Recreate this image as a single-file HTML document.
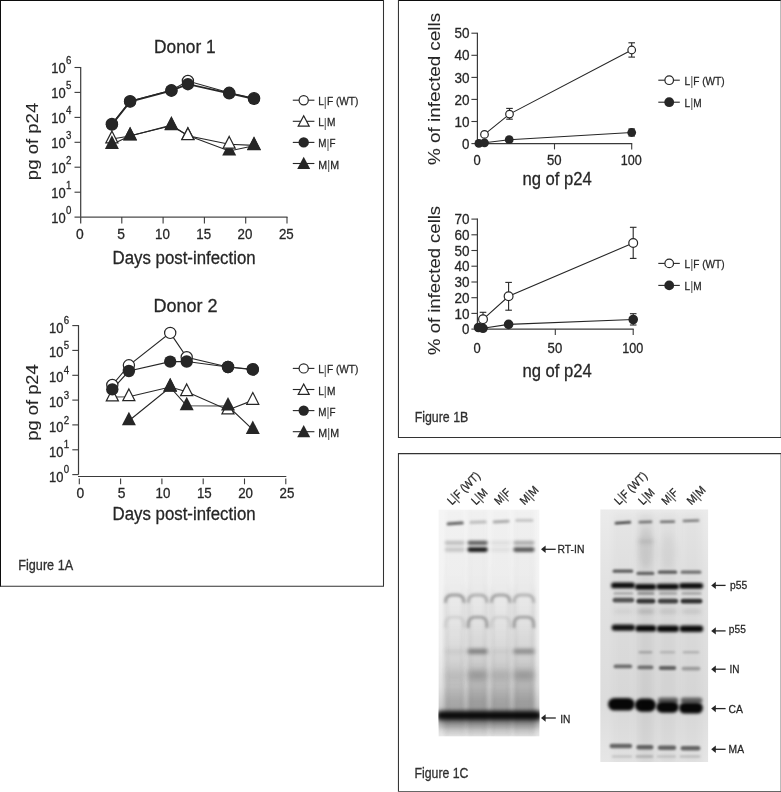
<!DOCTYPE html>
<html lang="en"><head><meta charset="utf-8"><title>Figure 1</title>
<style>html,body{margin:0;padding:0;background:#fff}svg{display:block}text{stroke:#262626;stroke-width:.28px}.v{stroke-width:.08px}.p{fill:#606060;stroke:#606060;stroke-width:.12px}.q{fill:#555;stroke:#555;stroke-width:.15px}</style></head>
<body>
<svg width="781" height="792" viewBox="0 0 781 792" font-family="'Liberation Sans', sans-serif" fill="#262626">
<defs>
<filter id="b07" filterUnits="userSpaceOnUse" x="425" y="495" width="300" height="280"><feGaussianBlur stdDeviation="0.75"/></filter>
<filter id="b1" filterUnits="userSpaceOnUse" x="425" y="495" width="300" height="280"><feGaussianBlur stdDeviation="1.0"/></filter>
<filter id="b15" filterUnits="userSpaceOnUse" x="425" y="495" width="300" height="280"><feGaussianBlur stdDeviation="1.5"/></filter>
<filter id="b2" filterUnits="userSpaceOnUse" x="425" y="495" width="300" height="280"><feGaussianBlur stdDeviation="1.9"/></filter>
<filter id="b3" filterUnits="userSpaceOnUse" x="425" y="495" width="300" height="280"><feGaussianBlur stdDeviation="3.2"/></filter>
<linearGradient id="gl" x1="0" y1="0" x2="0" y2="1"><stop offset="0" stop-color="#f5f5f5"/><stop offset="0.35" stop-color="#f3f3f3"/><stop offset="0.6" stop-color="#eeeeee"/><stop offset="0.78" stop-color="#e1e1e1"/><stop offset="0.87" stop-color="#cacaca"/><stop offset="0.96" stop-color="#d6d6d6"/><stop offset="1" stop-color="#e8e8e8"/></linearGradient>
<linearGradient id="gls" x1="0" y1="0" x2="0" y2="1"><stop offset="0" stop-color="#000" stop-opacity="0.02"/><stop offset="0.31" stop-color="#000" stop-opacity="0.03"/><stop offset="0.49" stop-color="#000" stop-opacity="0.06"/><stop offset="0.66" stop-color="#000" stop-opacity="0.12"/><stop offset="0.85" stop-color="#000" stop-opacity="0.25"/><stop offset="1" stop-color="#000" stop-opacity="0.06"/></linearGradient>
<linearGradient id="gle" x1="0" y1="0" x2="0" y2="1"><stop offset="0" stop-color="#000" stop-opacity="0.01"/><stop offset="0.33" stop-color="#000" stop-opacity="0.03"/><stop offset="0.42" stop-color="#000" stop-opacity="0.12"/><stop offset="0.56" stop-color="#000" stop-opacity="0.12"/><stop offset="0.7" stop-color="#000" stop-opacity="0.12"/><stop offset="0.85" stop-color="#000" stop-opacity="0.14"/><stop offset="1" stop-color="#000" stop-opacity="0.06"/></linearGradient>
<linearGradient id="fadeL" x1="0" y1="0" x2="1" y2="0"><stop offset="0" stop-color="#fff" stop-opacity="0.75"/><stop offset="1" stop-color="#fff" stop-opacity="0"/></linearGradient>
<linearGradient id="fadeR" x1="0" y1="0" x2="1" y2="0"><stop offset="0" stop-color="#fff" stop-opacity="0"/><stop offset="1" stop-color="#fff" stop-opacity="0.6"/></linearGradient>
<linearGradient id="gr" x1="0" y1="0" x2="0" y2="1"><stop offset="0" stop-color="#ebebeb"/><stop offset="0.3" stop-color="#e2e2e2"/><stop offset="0.75" stop-color="#dcdcdc"/><stop offset="1" stop-color="#e6e6e6"/></linearGradient>
</defs>
<rect width="781" height="792" fill="#fff"/>
<path d="M0,0.5 H384 M398,0.5 H781 M0.5,0 V586.6" fill="none" stroke="#0c0c0c" stroke-width="1"/>
<g fill="none" stroke="#333" stroke-width="1.05">
<path d="M383.5,0 V586.3 H0"/>
<path d="M781,437.4 H398.45 V0"/>
<path d="M781,453.6 H398.45 V792"/>
</g>
<path d="M781,0 V437 M781,454 V792" fill="none" stroke="#777" stroke-width="1"/>
<path d="M398,791.5 H781" fill="none" stroke="#666" stroke-width="1"/>
<line x1="80.7" y1="67.0" x2="80.7" y2="223.4" stroke="#3a3a3a" stroke-width="1.2"/>
<line x1="74.5" y1="192.2" x2="80.7" y2="192.2" stroke="#3a3a3a" stroke-width="1.1"/>
<line x1="74.5" y1="167.2" x2="80.7" y2="167.2" stroke="#3a3a3a" stroke-width="1.1"/>
<line x1="74.5" y1="142.3" x2="80.7" y2="142.3" stroke="#3a3a3a" stroke-width="1.1"/>
<line x1="74.5" y1="117.4" x2="80.7" y2="117.4" stroke="#3a3a3a" stroke-width="1.1"/>
<line x1="74.5" y1="92.4" x2="80.7" y2="92.4" stroke="#3a3a3a" stroke-width="1.1"/>
<line x1="74.5" y1="67.5" x2="80.7" y2="67.5" stroke="#3a3a3a" stroke-width="1.1"/>
<line x1="74.5" y1="217.1" x2="287.5" y2="217.1" stroke="#4a4a4a" stroke-width="1.3"/>
<text x="76.0" y="239.2" font-size="14.2" textLength="7.7" lengthAdjust="spacingAndGlyphs">0</text>
<line x1="121.8" y1="217.1" x2="121.8" y2="223.4" stroke="#3a3a3a" stroke-width="1.1"/>
<text x="117.2" y="239.2" font-size="14.2" textLength="7.7" lengthAdjust="spacingAndGlyphs">5</text>
<line x1="163.1" y1="217.1" x2="163.1" y2="223.4" stroke="#3a3a3a" stroke-width="1.1"/>
<text x="155.0" y="239.2" font-size="14.2" textLength="14.8" lengthAdjust="spacingAndGlyphs">10</text>
<line x1="204.4" y1="217.1" x2="204.4" y2="223.4" stroke="#3a3a3a" stroke-width="1.1"/>
<text x="196.3" y="239.2" font-size="14.2" textLength="14.8" lengthAdjust="spacingAndGlyphs">15</text>
<line x1="245.7" y1="217.1" x2="245.7" y2="223.4" stroke="#3a3a3a" stroke-width="1.1"/>
<text x="237.6" y="239.2" font-size="14.2" textLength="14.8" lengthAdjust="spacingAndGlyphs">20</text>
<line x1="287.0" y1="217.1" x2="287.0" y2="223.4" stroke="#3a3a3a" stroke-width="1.1"/>
<text x="278.9" y="239.2" font-size="14.2" textLength="14.8" lengthAdjust="spacingAndGlyphs">25</text>
<text x="51.3" y="222.6" font-size="14.2" textLength="14.4" lengthAdjust="spacingAndGlyphs">10</text>
<text x="66.0" y="213.9" font-size="10.8" textLength="5.4" lengthAdjust="spacingAndGlyphs">0</text>
<text x="51.3" y="197.7" font-size="14.2" textLength="14.4" lengthAdjust="spacingAndGlyphs">10</text>
<text x="66.0" y="189.0" font-size="10.8" textLength="5.4" lengthAdjust="spacingAndGlyphs">1</text>
<text x="51.3" y="172.7" font-size="14.2" textLength="14.4" lengthAdjust="spacingAndGlyphs">10</text>
<text x="66.0" y="164.0" font-size="10.8" textLength="5.4" lengthAdjust="spacingAndGlyphs">2</text>
<text x="51.3" y="147.8" font-size="14.2" textLength="14.4" lengthAdjust="spacingAndGlyphs">10</text>
<text x="66.0" y="139.1" font-size="10.8" textLength="5.4" lengthAdjust="spacingAndGlyphs">3</text>
<text x="51.3" y="122.9" font-size="14.2" textLength="14.4" lengthAdjust="spacingAndGlyphs">10</text>
<text x="66.0" y="114.2" font-size="10.8" textLength="5.4" lengthAdjust="spacingAndGlyphs">4</text>
<text x="51.3" y="97.9" font-size="14.2" textLength="14.4" lengthAdjust="spacingAndGlyphs">10</text>
<text x="66.0" y="89.2" font-size="10.8" textLength="5.4" lengthAdjust="spacingAndGlyphs">5</text>
<text x="51.3" y="73.0" font-size="14.2" textLength="14.4" lengthAdjust="spacingAndGlyphs">10</text>
<text x="66.0" y="64.3" font-size="10.8" textLength="5.4" lengthAdjust="spacingAndGlyphs">6</text>
<text x="38.1" y="180.2" font-size="16.6" textLength="77.5" lengthAdjust="spacingAndGlyphs" transform="rotate(-90 38.1 180.2)" class="v">pg of p24</text>
<text x="112.6" y="263.7" font-size="17.6" textLength="143.0" lengthAdjust="spacingAndGlyphs">Days post-infection</text>
<text x="154.0" y="53.0" font-size="18.6" textLength="61.6" lengthAdjust="spacingAndGlyphs">Donor 1</text>
<polyline points="111.9,124.0 130.1,101.2 171.4,90.3 187.9,81.0 229.2,92.8 254.0,98.2" fill="none" stroke="#262626" stroke-width="1.15"/>
<polyline points="111.9,139.0 130.1,136.0 171.4,125.2 187.9,135.8 229.2,144.3 254.0,145.4" fill="none" stroke="#262626" stroke-width="1.15"/>
<polyline points="111.9,124.6 130.1,101.6 171.4,90.7 187.9,84.2 229.2,93.3 254.0,98.9" fill="none" stroke="#262626" stroke-width="1.8"/>
<polyline points="111.9,144.4 130.1,135.8 171.4,125.8 187.9,135.6 229.2,151.0 254.0,145.8" fill="none" stroke="#262626" stroke-width="1.15"/>
<polygon points="111.9,131.1 117.9,142.9 105.8,142.9" fill="#fff" stroke="#262626" stroke-width="1.2" stroke-linejoin="miter"/>
<polygon points="130.1,128.1 136.1,139.9 124.0,139.9" fill="#fff" stroke="#262626" stroke-width="1.2" stroke-linejoin="miter"/>
<polygon points="171.4,117.3 177.4,129.1 165.3,129.1" fill="#fff" stroke="#262626" stroke-width="1.2" stroke-linejoin="miter"/>
<polygon points="254.0,137.5 260.0,149.3 247.9,149.3" fill="#fff" stroke="#262626" stroke-width="1.2" stroke-linejoin="miter"/>
<polygon points="111.9,135.3 118.9,148.9 104.9,148.9" fill="#262626"/>
<polygon points="130.1,126.7 137.1,140.3 123.1,140.3" fill="#262626"/>
<polygon points="171.4,116.7 178.4,130.3 164.4,130.3" fill="#262626"/>
<polygon points="187.9,126.5 194.9,140.1 180.9,140.1" fill="#262626"/>
<polygon points="229.2,141.9 236.2,155.5 222.2,155.5" fill="#262626"/>
<polygon points="254.0,136.7 261.0,150.3 247.0,150.3" fill="#262626"/>
<polygon points="187.9,127.9 193.9,139.7 181.8,139.7" fill="#fff" stroke="#262626" stroke-width="1.2" stroke-linejoin="miter"/>
<polygon points="229.2,136.4 235.2,148.2 223.1,148.2" fill="#fff" stroke="#262626" stroke-width="1.2" stroke-linejoin="miter"/>
<circle cx="111.9" cy="124.0" r="5.60" fill="#fff" stroke="#262626" stroke-width="1.2"/>
<circle cx="130.1" cy="101.2" r="5.60" fill="#fff" stroke="#262626" stroke-width="1.2"/>
<circle cx="171.4" cy="90.3" r="5.60" fill="#fff" stroke="#262626" stroke-width="1.2"/>
<circle cx="187.9" cy="81.0" r="5.60" fill="#fff" stroke="#262626" stroke-width="1.2"/>
<circle cx="229.2" cy="92.8" r="5.60" fill="#fff" stroke="#262626" stroke-width="1.2"/>
<circle cx="254.0" cy="98.2" r="5.60" fill="#fff" stroke="#262626" stroke-width="1.2"/>
<circle cx="111.9" cy="124.6" r="6.2" fill="#262626"/>
<circle cx="130.1" cy="101.6" r="6.2" fill="#262626"/>
<circle cx="171.4" cy="90.7" r="6.2" fill="#262626"/>
<circle cx="187.9" cy="84.2" r="6.2" fill="#262626"/>
<circle cx="229.2" cy="93.3" r="6.2" fill="#262626"/>
<circle cx="254.0" cy="98.9" r="6.2" fill="#262626"/>
<line x1="292.8" y1="100.2" x2="314.4" y2="100.2" stroke="#262626" stroke-width="1.1"/>
<circle cx="303.7" cy="100.2" r="4.60" fill="#fff" stroke="#262626" stroke-width="1.2"/>
<text x="318.2" y="105.2" font-size="11.6" textLength="40.2" lengthAdjust="spacingAndGlyphs">L<tspan class="p" font-size="13.6" dy="0.5">|</tspan><tspan dy="-0.5">F (WT)</tspan></text>
<line x1="292.8" y1="121.3" x2="314.4" y2="121.3" stroke="#262626" stroke-width="1.1"/>
<polygon points="303.7,115.8 309.2,126.2 298.2,126.2" fill="#fff" stroke="#262626" stroke-width="1.2" stroke-linejoin="miter"/>
<text x="318.2" y="126.3" font-size="11.6" textLength="17.2" lengthAdjust="spacingAndGlyphs">L<tspan class="p" font-size="13.6" dy="0.5">|</tspan><tspan dy="-0.5">M</tspan></text>
<line x1="292.8" y1="142.4" x2="314.4" y2="142.4" stroke="#262626" stroke-width="1.1"/>
<circle cx="303.7" cy="142.4" r="5.2" fill="#262626"/>
<text x="318.2" y="147.4" font-size="11.6" textLength="17.2" lengthAdjust="spacingAndGlyphs">M<tspan class="p" font-size="13.6" dy="0.5">|</tspan><tspan dy="-0.5">F</tspan></text>
<line x1="292.8" y1="163.5" x2="314.4" y2="163.5" stroke="#262626" stroke-width="1.1"/>
<polygon points="303.7,156.8 310.2,169.0 297.2,169.0" fill="#262626"/>
<text x="318.2" y="168.5" font-size="11.6" textLength="21.0" lengthAdjust="spacingAndGlyphs">M<tspan class="p" font-size="13.6" dy="0.5">|</tspan><tspan dy="-0.5">M</tspan></text>
<line x1="78.5" y1="325.1" x2="78.5" y2="474.6" stroke="#3a3a3a" stroke-width="1.2"/>
<line x1="72.3" y1="474.6" x2="78.5" y2="474.6" stroke="#3a3a3a" stroke-width="1.1"/>
<line x1="72.3" y1="449.8" x2="78.5" y2="449.8" stroke="#3a3a3a" stroke-width="1.1"/>
<line x1="72.3" y1="424.9" x2="78.5" y2="424.9" stroke="#3a3a3a" stroke-width="1.1"/>
<line x1="72.3" y1="400.1" x2="78.5" y2="400.1" stroke="#3a3a3a" stroke-width="1.1"/>
<line x1="72.3" y1="375.3" x2="78.5" y2="375.3" stroke="#3a3a3a" stroke-width="1.1"/>
<line x1="72.3" y1="350.4" x2="78.5" y2="350.4" stroke="#3a3a3a" stroke-width="1.1"/>
<line x1="72.3" y1="325.6" x2="78.5" y2="325.6" stroke="#3a3a3a" stroke-width="1.1"/>
<line x1="78.0" y1="476.5" x2="286.3" y2="476.5" stroke="#3a3a3a" stroke-width="1.2"/>
<line x1="79.3" y1="478.5" x2="79.3" y2="484.3" stroke="#3a3a3a" stroke-width="1.1"/>
<text x="76.5" y="498.4" font-size="14.2" textLength="7.7" lengthAdjust="spacingAndGlyphs">0</text>
<line x1="120.6" y1="478.5" x2="120.6" y2="484.3" stroke="#3a3a3a" stroke-width="1.1"/>
<text x="117.8" y="498.4" font-size="14.2" textLength="7.7" lengthAdjust="spacingAndGlyphs">5</text>
<line x1="161.9" y1="478.5" x2="161.9" y2="484.3" stroke="#3a3a3a" stroke-width="1.1"/>
<text x="155.6" y="498.4" font-size="14.2" textLength="14.8" lengthAdjust="spacingAndGlyphs">10</text>
<line x1="203.2" y1="478.5" x2="203.2" y2="484.3" stroke="#3a3a3a" stroke-width="1.1"/>
<text x="196.9" y="498.4" font-size="14.2" textLength="14.8" lengthAdjust="spacingAndGlyphs">15</text>
<line x1="244.5" y1="478.5" x2="244.5" y2="484.3" stroke="#3a3a3a" stroke-width="1.1"/>
<text x="238.2" y="498.4" font-size="14.2" textLength="14.8" lengthAdjust="spacingAndGlyphs">20</text>
<line x1="285.8" y1="478.5" x2="285.8" y2="484.3" stroke="#3a3a3a" stroke-width="1.1"/>
<text x="279.5" y="498.4" font-size="14.2" textLength="14.8" lengthAdjust="spacingAndGlyphs">25</text>
<text x="49.1" y="481.6" font-size="14.2" textLength="14.4" lengthAdjust="spacingAndGlyphs">10</text>
<text x="63.8" y="473.2" font-size="10.8" textLength="5.4" lengthAdjust="spacingAndGlyphs">0</text>
<text x="49.1" y="456.8" font-size="14.2" textLength="14.4" lengthAdjust="spacingAndGlyphs">10</text>
<text x="63.8" y="448.4" font-size="10.8" textLength="5.4" lengthAdjust="spacingAndGlyphs">1</text>
<text x="49.1" y="431.9" font-size="14.2" textLength="14.4" lengthAdjust="spacingAndGlyphs">10</text>
<text x="63.8" y="423.5" font-size="10.8" textLength="5.4" lengthAdjust="spacingAndGlyphs">2</text>
<text x="49.1" y="407.1" font-size="14.2" textLength="14.4" lengthAdjust="spacingAndGlyphs">10</text>
<text x="63.8" y="398.7" font-size="10.8" textLength="5.4" lengthAdjust="spacingAndGlyphs">3</text>
<text x="49.1" y="382.3" font-size="14.2" textLength="14.4" lengthAdjust="spacingAndGlyphs">10</text>
<text x="63.8" y="373.9" font-size="10.8" textLength="5.4" lengthAdjust="spacingAndGlyphs">4</text>
<text x="49.1" y="357.4" font-size="14.2" textLength="14.4" lengthAdjust="spacingAndGlyphs">10</text>
<text x="63.8" y="349.0" font-size="10.8" textLength="5.4" lengthAdjust="spacingAndGlyphs">5</text>
<text x="49.1" y="332.6" font-size="14.2" textLength="14.4" lengthAdjust="spacingAndGlyphs">10</text>
<text x="63.8" y="324.2" font-size="10.8" textLength="5.4" lengthAdjust="spacingAndGlyphs">6</text>
<text x="38.1" y="440.7" font-size="16.6" textLength="76.4" lengthAdjust="spacingAndGlyphs" transform="rotate(-90 38.1 440.7)" class="v">pg of p24</text>
<text x="112.6" y="520.2" font-size="17.6" textLength="143.0" lengthAdjust="spacingAndGlyphs">Days post-infection</text>
<text x="153.4" y="311.7" font-size="19.0" textLength="64.2" lengthAdjust="spacingAndGlyphs">Donor 2</text>
<polyline points="112.3,385.0 128.9,365.3 170.2,332.9 186.7,357.2 228.0,367.0 252.8,369.2" fill="none" stroke="#262626" stroke-width="1.15"/>
<polyline points="112.3,397.0 128.9,396.8 170.2,387.0 186.7,391.8 228.0,410.0 252.8,400.4" fill="none" stroke="#262626" stroke-width="1.15"/>
<polyline points="112.3,389.4 128.9,371.0 170.2,361.6 186.7,361.5 228.0,367.0 252.8,369.6" fill="none" stroke="#262626" stroke-width="1.15"/>
<polyline points="128.9,420.8 170.2,387.2 186.7,405.8 228.0,406.0 252.8,429.6" fill="none" stroke="#262626" stroke-width="1.15"/>
<polygon points="112.3,389.1 118.4,400.9 106.3,400.9" fill="#fff" stroke="#262626" stroke-width="1.2" stroke-linejoin="miter"/>
<polygon points="128.9,388.9 134.9,400.7 122.8,400.7" fill="#fff" stroke="#262626" stroke-width="1.2" stroke-linejoin="miter"/>
<polygon points="170.2,379.1 176.2,390.9 164.1,390.9" fill="#fff" stroke="#262626" stroke-width="1.2" stroke-linejoin="miter"/>
<polygon points="186.7,383.9 192.7,395.7 180.6,395.7" fill="#fff" stroke="#262626" stroke-width="1.2" stroke-linejoin="miter"/>
<polygon points="228.0,402.1 234.0,413.9 221.9,413.9" fill="#fff" stroke="#262626" stroke-width="1.2" stroke-linejoin="miter"/>
<polygon points="252.8,392.5 258.8,404.3 246.7,404.3" fill="#fff" stroke="#262626" stroke-width="1.2" stroke-linejoin="miter"/>
<polygon points="128.9,411.7 135.9,425.3 121.9,425.3" fill="#262626"/>
<polygon points="170.2,378.1 177.2,391.7 163.2,391.7" fill="#262626"/>
<polygon points="186.7,396.7 193.7,410.3 179.7,410.3" fill="#262626"/>
<polygon points="228.0,396.9 235.0,410.5 221.0,410.5" fill="#262626"/>
<polygon points="252.8,420.5 259.8,434.1 245.8,434.1" fill="#262626"/>
<circle cx="112.3" cy="385.0" r="5.60" fill="#fff" stroke="#262626" stroke-width="1.2"/>
<circle cx="128.9" cy="365.3" r="5.60" fill="#fff" stroke="#262626" stroke-width="1.2"/>
<circle cx="170.2" cy="332.9" r="5.60" fill="#fff" stroke="#262626" stroke-width="1.2"/>
<circle cx="186.7" cy="357.2" r="5.60" fill="#fff" stroke="#262626" stroke-width="1.2"/>
<circle cx="228.0" cy="367.0" r="5.60" fill="#fff" stroke="#262626" stroke-width="1.2"/>
<circle cx="252.8" cy="369.2" r="5.60" fill="#fff" stroke="#262626" stroke-width="1.2"/>
<circle cx="112.3" cy="389.4" r="6.2" fill="#262626"/>
<circle cx="128.9" cy="371.0" r="6.2" fill="#262626"/>
<circle cx="170.2" cy="361.6" r="6.2" fill="#262626"/>
<circle cx="186.7" cy="361.5" r="6.2" fill="#262626"/>
<circle cx="228.0" cy="367.0" r="6.2" fill="#262626"/>
<circle cx="252.8" cy="369.6" r="6.2" fill="#262626"/>
<line x1="292.8" y1="368.4" x2="314.4" y2="368.4" stroke="#262626" stroke-width="1.1"/>
<circle cx="303.7" cy="368.4" r="4.60" fill="#fff" stroke="#262626" stroke-width="1.2"/>
<text x="318.2" y="373.4" font-size="11.6" textLength="40.2" lengthAdjust="spacingAndGlyphs">L<tspan class="p" font-size="13.6" dy="0.5">|</tspan><tspan dy="-0.5">F (WT)</tspan></text>
<line x1="292.8" y1="389.5" x2="314.4" y2="389.5" stroke="#262626" stroke-width="1.1"/>
<polygon points="303.7,384.0 309.2,394.4 298.2,394.4" fill="#fff" stroke="#262626" stroke-width="1.2" stroke-linejoin="miter"/>
<text x="318.2" y="394.5" font-size="11.6" textLength="17.2" lengthAdjust="spacingAndGlyphs">L<tspan class="p" font-size="13.6" dy="0.5">|</tspan><tspan dy="-0.5">M</tspan></text>
<line x1="292.8" y1="410.6" x2="314.4" y2="410.6" stroke="#262626" stroke-width="1.1"/>
<circle cx="303.7" cy="410.6" r="5.2" fill="#262626"/>
<text x="318.2" y="415.6" font-size="11.6" textLength="17.2" lengthAdjust="spacingAndGlyphs">M<tspan class="p" font-size="13.6" dy="0.5">|</tspan><tspan dy="-0.5">F</tspan></text>
<line x1="292.8" y1="431.7" x2="314.4" y2="431.7" stroke="#262626" stroke-width="1.1"/>
<polygon points="303.7,425.0 310.2,437.2 297.2,437.2" fill="#262626"/>
<text x="318.2" y="436.7" font-size="11.6" textLength="21.0" lengthAdjust="spacingAndGlyphs">M<tspan class="p" font-size="13.6" dy="0.5">|</tspan><tspan dy="-0.5">M</tspan></text>
<text x="18.3" y="570.4" font-size="14.1" textLength="54.8" lengthAdjust="spacingAndGlyphs" fill="#333">Figure 1A</text>
<line x1="477.4" y1="32.7" x2="477.4" y2="144.1" stroke="#3a3a3a" stroke-width="1.2"/>
<line x1="471.4" y1="143.6" x2="477.4" y2="143.6" stroke="#3a3a3a" stroke-width="1.1"/>
<text x="462.0" y="148.7" font-size="14.2" textLength="7.4" lengthAdjust="spacingAndGlyphs">0</text>
<line x1="471.4" y1="121.5" x2="477.4" y2="121.5" stroke="#3a3a3a" stroke-width="1.1"/>
<text x="454.4" y="126.6" font-size="14.2" textLength="15.0" lengthAdjust="spacingAndGlyphs">10</text>
<line x1="471.4" y1="99.4" x2="477.4" y2="99.4" stroke="#3a3a3a" stroke-width="1.1"/>
<text x="454.4" y="104.5" font-size="14.2" textLength="15.0" lengthAdjust="spacingAndGlyphs">20</text>
<line x1="471.4" y1="77.4" x2="477.4" y2="77.4" stroke="#3a3a3a" stroke-width="1.1"/>
<text x="454.4" y="82.5" font-size="14.2" textLength="15.0" lengthAdjust="spacingAndGlyphs">30</text>
<line x1="471.4" y1="55.3" x2="477.4" y2="55.3" stroke="#3a3a3a" stroke-width="1.1"/>
<text x="454.4" y="60.4" font-size="14.2" textLength="15.0" lengthAdjust="spacingAndGlyphs">40</text>
<line x1="471.4" y1="33.2" x2="477.4" y2="33.2" stroke="#3a3a3a" stroke-width="1.1"/>
<text x="454.4" y="38.3" font-size="14.2" textLength="15.0" lengthAdjust="spacingAndGlyphs">50</text>
<line x1="476.9" y1="143.6" x2="632.2" y2="143.6" stroke="#3a3a3a" stroke-width="1.2"/>
<text x="473.4" y="165.0" font-size="14.2" textLength="7.2" lengthAdjust="spacingAndGlyphs">0</text>
<line x1="554.5" y1="143.6" x2="554.5" y2="149.4" stroke="#3a3a3a" stroke-width="1.1"/>
<text x="546.9" y="165.0" font-size="14.2" textLength="14.6" lengthAdjust="spacingAndGlyphs">50</text>
<line x1="631.7" y1="143.6" x2="631.7" y2="149.4" stroke="#3a3a3a" stroke-width="1.1"/>
<text x="620.8" y="165.0" font-size="14.2" textLength="21.0" lengthAdjust="spacingAndGlyphs">100</text>
<text x="440.5" y="164.9" font-size="16.8" textLength="152.0" lengthAdjust="spacingAndGlyphs" transform="rotate(-90 440.5 164.9)" class="v">% of infected cells</text>
<text x="522.4" y="185.0" font-size="17.6" textLength="69.4" lengthAdjust="spacingAndGlyphs">ng of p24</text>
<polyline points="484.5,134.4 509.5,114.1 631.7,50.0" fill="none" stroke="#262626" stroke-width="1.1"/>
<polyline points="478.9,143.4 484.5,142.8 509.2,139.7 631.7,132.5" fill="none" stroke="#262626" stroke-width="1.1"/>
<circle cx="484.5" cy="134.4" r="3.80" fill="#fff" stroke="#262626" stroke-width="1.2"/>
<line x1="509.5" y1="108.4" x2="509.5" y2="119.2" stroke="#262626" stroke-width="1.1"/>
<line x1="506.2" y1="108.4" x2="512.8" y2="108.4" stroke="#262626" stroke-width="1.1"/>
<line x1="506.2" y1="119.2" x2="512.8" y2="119.2" stroke="#262626" stroke-width="1.1"/>
<circle cx="509.5" cy="114.1" r="3.80" fill="#fff" stroke="#262626" stroke-width="1.2"/>
<line x1="631.7" y1="42.8" x2="631.7" y2="57.1" stroke="#262626" stroke-width="1.1"/>
<line x1="628.4" y1="42.8" x2="635.0" y2="42.8" stroke="#262626" stroke-width="1.1"/>
<line x1="628.4" y1="57.1" x2="635.0" y2="57.1" stroke="#262626" stroke-width="1.1"/>
<circle cx="631.7" cy="50.0" r="3.80" fill="#fff" stroke="#262626" stroke-width="1.2"/>
<circle cx="478.9" cy="143.4" r="4.4" fill="#262626"/>
<circle cx="484.5" cy="142.8" r="4.4" fill="#262626"/>
<circle cx="509.2" cy="139.7" r="4.4" fill="#262626"/>
<line x1="631.7" y1="129.0" x2="631.7" y2="136.0" stroke="#262626" stroke-width="1.1"/>
<line x1="628.4" y1="129.0" x2="635.0" y2="129.0" stroke="#262626" stroke-width="1.1"/>
<line x1="628.4" y1="136.0" x2="635.0" y2="136.0" stroke="#262626" stroke-width="1.1"/>
<circle cx="631.7" cy="132.5" r="4.4" fill="#262626"/>
<line x1="658.3" y1="80.2" x2="679.8" y2="80.2" stroke="#262626" stroke-width="1.1"/>
<circle cx="669.2" cy="80.2" r="4.30" fill="#fff" stroke="#262626" stroke-width="1.2"/>
<text x="684.6" y="84.7" font-size="11.6" textLength="40.0" lengthAdjust="spacingAndGlyphs">L<tspan class="p" font-size="13.6" dy="0.5">|</tspan><tspan dy="-0.5">F (WT)</tspan></text>
<line x1="658.3" y1="102.2" x2="679.8" y2="102.2" stroke="#262626" stroke-width="1.1"/>
<circle cx="669.2" cy="102.2" r="4.9" fill="#262626"/>
<text x="684.6" y="106.7" font-size="11.6" textLength="17.0" lengthAdjust="spacingAndGlyphs">L<tspan class="p" font-size="13.6" dy="0.5">|</tspan><tspan dy="-0.5">M</tspan></text>
<line x1="477.4" y1="218.6" x2="477.4" y2="329.6" stroke="#3a3a3a" stroke-width="1.2"/>
<line x1="471.4" y1="329.1" x2="477.4" y2="329.1" stroke="#3a3a3a" stroke-width="1.1"/>
<text x="462.0" y="334.2" font-size="14.2" textLength="7.4" lengthAdjust="spacingAndGlyphs">0</text>
<line x1="471.4" y1="313.4" x2="477.4" y2="313.4" stroke="#3a3a3a" stroke-width="1.1"/>
<text x="454.4" y="318.5" font-size="14.2" textLength="15.0" lengthAdjust="spacingAndGlyphs">10</text>
<line x1="471.4" y1="297.7" x2="477.4" y2="297.7" stroke="#3a3a3a" stroke-width="1.1"/>
<text x="454.4" y="302.8" font-size="14.2" textLength="15.0" lengthAdjust="spacingAndGlyphs">20</text>
<line x1="471.4" y1="282.0" x2="477.4" y2="282.0" stroke="#3a3a3a" stroke-width="1.1"/>
<text x="454.4" y="287.1" font-size="14.2" textLength="15.0" lengthAdjust="spacingAndGlyphs">30</text>
<line x1="471.4" y1="266.2" x2="477.4" y2="266.2" stroke="#3a3a3a" stroke-width="1.1"/>
<text x="454.4" y="271.3" font-size="14.2" textLength="15.0" lengthAdjust="spacingAndGlyphs">40</text>
<line x1="471.4" y1="250.5" x2="477.4" y2="250.5" stroke="#3a3a3a" stroke-width="1.1"/>
<text x="454.4" y="255.6" font-size="14.2" textLength="15.0" lengthAdjust="spacingAndGlyphs">50</text>
<line x1="471.4" y1="234.8" x2="477.4" y2="234.8" stroke="#3a3a3a" stroke-width="1.1"/>
<text x="454.4" y="239.9" font-size="14.2" textLength="15.0" lengthAdjust="spacingAndGlyphs">60</text>
<line x1="471.4" y1="219.1" x2="477.4" y2="219.1" stroke="#3a3a3a" stroke-width="1.1"/>
<text x="454.4" y="224.2" font-size="14.2" textLength="15.0" lengthAdjust="spacingAndGlyphs">70</text>
<line x1="476.9" y1="329.1" x2="633.7" y2="329.1" stroke="#3a3a3a" stroke-width="1.2"/>
<text x="473.4" y="352.8" font-size="14.2" textLength="7.2" lengthAdjust="spacingAndGlyphs">0</text>
<line x1="555.3" y1="329.1" x2="555.3" y2="334.9" stroke="#3a3a3a" stroke-width="1.1"/>
<text x="547.6" y="352.8" font-size="14.2" textLength="14.6" lengthAdjust="spacingAndGlyphs">50</text>
<line x1="633.2" y1="329.1" x2="633.2" y2="334.9" stroke="#3a3a3a" stroke-width="1.1"/>
<text x="622.3" y="352.8" font-size="14.2" textLength="21.0" lengthAdjust="spacingAndGlyphs">100</text>
<text x="440.5" y="354.9" font-size="16.8" textLength="149.0" lengthAdjust="spacingAndGlyphs" transform="rotate(-90 440.5 354.9)" class="v">% of infected cells</text>
<text x="522.4" y="376.7" font-size="17.6" textLength="69.4" lengthAdjust="spacingAndGlyphs">ng of p24</text>
<polyline points="483.0,319.3 508.6,296.3 633.2,243.0" fill="none" stroke="#262626" stroke-width="1.1"/>
<polyline points="478.5,327.5 483.0,328.3 508.6,324.4 633.2,319.5" fill="none" stroke="#262626" stroke-width="1.1"/>
<line x1="483.0" y1="312.3" x2="483.0" y2="326.0" stroke="#262626" stroke-width="1.1"/>
<line x1="479.7" y1="312.3" x2="486.3" y2="312.3" stroke="#262626" stroke-width="1.1"/>
<line x1="479.7" y1="326.0" x2="486.3" y2="326.0" stroke="#262626" stroke-width="1.1"/>
<circle cx="483.0" cy="319.3" r="4.40" fill="#fff" stroke="#262626" stroke-width="1.2"/>
<line x1="508.6" y1="282.4" x2="508.6" y2="310.2" stroke="#262626" stroke-width="1.1"/>
<line x1="505.3" y1="282.4" x2="511.9" y2="282.4" stroke="#262626" stroke-width="1.1"/>
<line x1="505.3" y1="310.2" x2="511.9" y2="310.2" stroke="#262626" stroke-width="1.1"/>
<circle cx="508.6" cy="296.3" r="4.40" fill="#fff" stroke="#262626" stroke-width="1.2"/>
<line x1="633.2" y1="227.3" x2="633.2" y2="258.4" stroke="#262626" stroke-width="1.1"/>
<line x1="629.9" y1="227.3" x2="636.5" y2="227.3" stroke="#262626" stroke-width="1.1"/>
<line x1="629.9" y1="258.4" x2="636.5" y2="258.4" stroke="#262626" stroke-width="1.1"/>
<circle cx="633.2" cy="243.0" r="4.40" fill="#fff" stroke="#262626" stroke-width="1.2"/>
<circle cx="478.5" cy="327.5" r="4.8" fill="#262626"/>
<circle cx="483.0" cy="328.3" r="4.8" fill="#262626"/>
<circle cx="508.6" cy="324.4" r="4.8" fill="#262626"/>
<line x1="633.2" y1="313.7" x2="633.2" y2="325.0" stroke="#262626" stroke-width="1.1"/>
<line x1="629.9" y1="313.7" x2="636.5" y2="313.7" stroke="#262626" stroke-width="1.1"/>
<line x1="629.9" y1="325.0" x2="636.5" y2="325.0" stroke="#262626" stroke-width="1.1"/>
<circle cx="633.2" cy="319.5" r="4.8" fill="#262626"/>
<line x1="658.3" y1="263.4" x2="679.8" y2="263.4" stroke="#262626" stroke-width="1.1"/>
<circle cx="669.2" cy="263.4" r="4.30" fill="#fff" stroke="#262626" stroke-width="1.2"/>
<text x="684.6" y="267.9" font-size="11.6" textLength="40.0" lengthAdjust="spacingAndGlyphs">L<tspan class="p" font-size="13.6" dy="0.5">|</tspan><tspan dy="-0.5">F (WT)</tspan></text>
<line x1="658.3" y1="285.4" x2="679.8" y2="285.4" stroke="#262626" stroke-width="1.1"/>
<circle cx="669.2" cy="285.4" r="4.9" fill="#262626"/>
<text x="684.6" y="289.9" font-size="11.6" textLength="17.0" lengthAdjust="spacingAndGlyphs">L<tspan class="p" font-size="13.6" dy="0.5">|</tspan><tspan dy="-0.5">M</tspan></text>
<text x="414.7" y="421.6" font-size="14.1" textLength="53.6" lengthAdjust="spacingAndGlyphs" fill="#333">Figure 1B</text>
<clipPath id="cl"><rect x="438.4" y="509.4" width="101.2" height="227.2"/></clipPath>
<g clip-path="url(#cl)">
<rect x="438.4" y="509.4" width="101.2" height="227.2" fill="url(#gl)"/>
<rect x="445.4" y="509.4" width="18.6" height="227.2" fill="url(#gls)" opacity="0.8" filter="url(#b2)"/>
<rect x="444.6" y="509.4" width="2.6" height="227.2" fill="url(#gle)" opacity="0.8" filter="url(#b2)"/>
<rect x="462.4" y="509.4" width="2.6" height="227.2" fill="url(#gle)" opacity="0.8" filter="url(#b2)"/>
<rect x="468.2" y="509.4" width="18.8" height="227.2" fill="url(#gls)" opacity="1.15" filter="url(#b2)"/>
<rect x="467.4" y="509.4" width="2.6" height="227.2" fill="url(#gle)" opacity="1.15" filter="url(#b2)"/>
<rect x="485.4" y="509.4" width="2.6" height="227.2" fill="url(#gle)" opacity="1.15" filter="url(#b2)"/>
<rect x="491.4" y="509.4" width="18.6" height="227.2" fill="url(#gls)" opacity="0.9" filter="url(#b2)"/>
<rect x="490.6" y="509.4" width="2.6" height="227.2" fill="url(#gle)" opacity="0.9" filter="url(#b2)"/>
<rect x="508.4" y="509.4" width="2.6" height="227.2" fill="url(#gle)" opacity="0.9" filter="url(#b2)"/>
<rect x="514.0" y="509.4" width="19.8" height="227.2" fill="url(#gls)" opacity="1.1" filter="url(#b2)"/>
<rect x="513.2" y="509.4" width="2.6" height="227.2" fill="url(#gle)" opacity="1.1" filter="url(#b2)"/>
<rect x="532.2" y="509.4" width="2.6" height="227.2" fill="url(#gle)" opacity="1.1" filter="url(#b2)"/>
<rect x="446.6" y="521.8" width="17.2" height="3.2" rx="1.6" fill="#000" fill-opacity="0.55" filter="url(#b1)" transform="rotate(-4 455.2 523.4)"/>
<rect x="469.4" y="520.6" width="17.4" height="3.2" rx="1.6" fill="#000" fill-opacity="0.2" filter="url(#b1)" transform="rotate(-2 478.1 522.2)"/>
<rect x="492.6" y="520.0" width="17.2" height="3.2" rx="1.6" fill="#000" fill-opacity="0.27" filter="url(#b1)" transform="rotate(-3 501.2 521.6)"/>
<rect x="515.2" y="518.8" width="18.4" height="3.2" rx="1.6" fill="#000" fill-opacity="0.16" filter="url(#b1)"/>
<rect x="444.6" y="540.7" width="20.2" height="4.2" rx="2.1" fill="#000" fill-opacity="0.2" filter="url(#b15)"/>
<rect x="444.6" y="547.3" width="20.2" height="4.6" rx="2.3" fill="#000" fill-opacity="0.16" filter="url(#b15)"/>
<rect x="467.4" y="540.7" width="20.4" height="4.2" rx="2.1" fill="#000" fill-opacity="0.6" filter="url(#b15)"/>
<rect x="467.4" y="547.3" width="20.4" height="4.6" rx="2.3" fill="#000" fill-opacity="0.9" filter="url(#b15)"/>
<rect x="490.6" y="540.7" width="20.2" height="4.2" rx="2.1" fill="#000" fill-opacity="0.07" filter="url(#b15)"/>
<rect x="490.6" y="547.3" width="20.2" height="4.6" rx="2.3" fill="#000" fill-opacity="0.06" filter="url(#b15)"/>
<rect x="513.2" y="540.7" width="21.4" height="4.2" rx="2.1" fill="#000" fill-opacity="0.27" filter="url(#b15)"/>
<rect x="513.2" y="547.3" width="21.4" height="4.6" rx="2.3" fill="#000" fill-opacity="0.62" filter="url(#b15)"/>
<path d="M445.4,602.8 L445.6,600.8 Q446.0,595.4 452.1,595.0 L457.3,595.0 Q463.4,595.4 463.8,600.8 L464.0,602.8" fill="none" stroke="#000" stroke-opacity="0.4" stroke-width="2.3" filter="url(#b15)"/>
<path d="M468.2,602.8 L468.4,600.8 Q468.8,595.4 474.9,595.0 L480.3,595.0 Q486.4,595.4 486.8,600.8 L487.0,602.8" fill="none" stroke="#000" stroke-opacity="0.3" stroke-width="2.3" filter="url(#b15)"/>
<path d="M491.4,602.8 L491.6,600.8 Q492.0,595.4 498.1,595.0 L503.3,595.0 Q509.4,595.4 509.8,600.8 L510.0,602.8" fill="none" stroke="#000" stroke-opacity="0.36" stroke-width="2.3" filter="url(#b15)"/>
<path d="M514.0,602.8 L514.2,600.8 Q514.6,595.4 520.7,595.0 L527.1,595.0 Q533.2,595.4 533.6,600.8 L533.8,602.8" fill="none" stroke="#000" stroke-opacity="0.28" stroke-width="2.3" filter="url(#b15)"/>
<path d="M445.4,628.0 L445.6,623.0 Q446.0,617.6 452.1,617.2 L457.3,617.2 Q463.4,617.6 463.8,623.0 L464.0,628.0" fill="none" stroke="#000" stroke-opacity="0.11" stroke-width="2.3" filter="url(#b15)"/>
<path d="M468.2,628.0 L468.4,623.0 Q468.8,617.6 474.9,617.2 L480.3,617.2 Q486.4,617.6 486.8,623.0 L487.0,628.0" fill="none" stroke="#000" stroke-opacity="0.36" stroke-width="2.3" filter="url(#b15)"/>
<path d="M491.4,628.0 L491.6,623.0 Q492.0,617.6 498.1,617.2 L503.3,617.2 Q509.4,617.6 509.8,623.0 L510.0,628.0" fill="none" stroke="#000" stroke-opacity="0.11" stroke-width="2.3" filter="url(#b15)"/>
<path d="M514.0,628.0 L514.2,623.0 Q514.6,617.6 520.7,617.2 L527.1,617.2 Q533.2,617.6 533.6,623.0 L533.8,628.0" fill="none" stroke="#000" stroke-opacity="0.36" stroke-width="2.3" filter="url(#b15)"/>
<rect x="444.6" y="649.5" width="20.2" height="3.8" rx="1.9" fill="#000" fill-opacity="0.08" filter="url(#b2)"/>
<rect x="467.4" y="649.5" width="20.4" height="3.8" rx="1.9" fill="#000" fill-opacity="0.55" filter="url(#b2)"/>
<rect x="490.6" y="649.5" width="20.2" height="3.8" rx="1.9" fill="#000" fill-opacity="0.06" filter="url(#b2)"/>
<rect x="513.2" y="649.5" width="21.4" height="3.8" rx="1.9" fill="#000" fill-opacity="0.46" filter="url(#b2)"/>
<rect x="444.6" y="670.0" width="20.2" height="10.0" rx="5.0" fill="#000" fill-opacity="0.05" filter="url(#b3)"/>
<rect x="467.4" y="670.0" width="20.4" height="10.0" rx="5.0" fill="#000" fill-opacity="0.2" filter="url(#b3)"/>
<rect x="490.6" y="670.0" width="20.2" height="10.0" rx="5.0" fill="#000" fill-opacity="0.1" filter="url(#b3)"/>
<rect x="513.2" y="670.0" width="21.4" height="10.0" rx="5.0" fill="#000" fill-opacity="0.2" filter="url(#b3)"/>
<rect x="436.4" y="715.5" width="105.2" height="11.0" rx="5.5" fill="#000" fill-opacity="0.3" filter="url(#b3)"/>
<rect x="436.4" y="710.8" width="105.2" height="9.2" rx="4.6" fill="#000" fill-opacity="0.93" filter="url(#b2)"/>
</g>
<text x="452.0" y="505.6" font-size="11.6" textLength="41.0" lengthAdjust="spacingAndGlyphs" transform="rotate(-45 452.0 505.6)">L<tspan class="q" font-size="13.6" dy="0.8">|</tspan><tspan dy="-0.8">F (WT)</tspan></text>
<text x="476.0" y="505.6" font-size="11.6" textLength="17.5" lengthAdjust="spacingAndGlyphs" transform="rotate(-45 476.0 505.6)">L<tspan class="q" font-size="13.6" dy="0.8">|</tspan><tspan dy="-0.8">M</tspan></text>
<text x="499.0" y="505.6" font-size="11.6" textLength="17.5" lengthAdjust="spacingAndGlyphs" transform="rotate(-45 499.0 505.6)">M<tspan class="q" font-size="13.6" dy="0.8">|</tspan><tspan dy="-0.8">F</tspan></text>
<text x="524.5" y="505.6" font-size="11.6" textLength="21.0" lengthAdjust="spacingAndGlyphs" transform="rotate(-45 524.5 505.6)">M<tspan class="q" font-size="13.6" dy="0.8">|</tspan><tspan dy="-0.8">M</tspan></text>
<line x1="543.5" y1="549.3" x2="555.7" y2="549.3" stroke="#262626" stroke-width="1.3"/>
<polygon points="541.0,549.3 545.6,545.6 545.6,553.0" fill="#262626"/>
<text x="557.6" y="553.3" font-size="11.5" textLength="26.8" lengthAdjust="spacingAndGlyphs">RT-IN</text>
<line x1="543.5" y1="718.0" x2="555.8" y2="718.0" stroke="#262626" stroke-width="1.3"/>
<polygon points="541.0,718.0 545.6,714.3 545.6,721.7" fill="#262626"/>
<text x="560.2" y="723.4" font-size="11.5" textLength="10.2" lengthAdjust="spacingAndGlyphs">IN</text>
<clipPath id="cr"><rect x="600.2" y="509.3" width="108.1" height="252.7"/></clipPath>
<g clip-path="url(#cr)">
<rect x="600.2" y="509.3" width="108.1" height="252.7" fill="url(#gr)"/>
<rect x="613.6" y="513.3" width="19.6" height="252.7" fill="#000" fill-opacity="0.025" filter="url(#b3)"/>
<rect x="637.4" y="513.3" width="17.0" height="252.7" fill="#000" fill-opacity="0.065" filter="url(#b3)"/>
<rect x="658.8" y="513.3" width="18.4" height="252.7" fill="#000" fill-opacity="0.045" filter="url(#b3)"/>
<rect x="681.6" y="513.3" width="19.8" height="252.7" fill="#000" fill-opacity="0.03" filter="url(#b3)"/>
<rect x="614.6" y="521.4" width="16.6" height="2.5" rx="1.2" fill="#000" fill-opacity="0.72" filter="url(#b1)" transform="rotate(-4 622.9 522.6)"/>
<rect x="638.4" y="520.8" width="14.0" height="2.5" rx="1.2" fill="#000" fill-opacity="0.5" filter="url(#b1)" transform="rotate(-2 645.4 522.0)"/>
<rect x="659.8" y="520.5" width="15.4" height="2.5" rx="1.2" fill="#000" fill-opacity="0.5" filter="url(#b1)" transform="rotate(-1 667.5 521.8)"/>
<rect x="682.6" y="519.4" width="16.8" height="2.5" rx="1.2" fill="#000" fill-opacity="0.46" filter="url(#b1)" transform="rotate(-2 691.0 520.6)"/>
<rect x="638.0" y="528.0" width="16.0" height="40.0" rx="20.0" fill="#000" fill-opacity="0.07" filter="url(#b3)"/>
<rect x="660.0" y="534.0" width="16.0" height="36.0" rx="18.0" fill="#000" fill-opacity="0.035" filter="url(#b3)"/>
<rect x="638.0" y="539.5" width="16.0" height="4.0" rx="2.0" fill="#000" fill-opacity="0.1" filter="url(#b2)"/>
<rect x="612.6" y="569.6" width="20.6" height="3.2" rx="1.6" fill="#000" fill-opacity="0.6" filter="url(#b1)"/>
<rect x="636.4" y="571.8" width="18.0" height="3.2" rx="1.6" fill="#000" fill-opacity="0.55" filter="url(#b1)"/>
<rect x="657.8" y="570.6" width="19.4" height="3.2" rx="1.6" fill="#000" fill-opacity="0.6" filter="url(#b1)"/>
<rect x="680.6" y="570.6" width="20.8" height="3.2" rx="1.6" fill="#000" fill-opacity="0.5" filter="url(#b1)"/>
<rect x="611.1" y="582.5" width="23.9" height="5.8" rx="2.9" fill="#000" fill-opacity="0.95" filter="url(#b15)"/>
<rect x="634.9" y="583.9" width="21.3" height="5.8" rx="2.9" fill="#000" fill-opacity="0.95" filter="url(#b15)"/>
<rect x="656.3" y="583.7" width="22.7" height="5.8" rx="2.9" fill="#000" fill-opacity="0.95" filter="url(#b15)"/>
<rect x="679.1" y="582.9" width="24.1" height="5.8" rx="2.9" fill="#000" fill-opacity="0.95" filter="url(#b15)"/>
<rect x="613.6" y="592.2" width="19.6" height="2.4" rx="1.2" fill="#000" fill-opacity="0.28" filter="url(#b1)"/>
<rect x="637.4" y="592.2" width="17.0" height="2.4" rx="1.2" fill="#000" fill-opacity="0.4" filter="url(#b1)"/>
<rect x="658.8" y="592.2" width="18.4" height="2.4" rx="1.2" fill="#000" fill-opacity="0.3" filter="url(#b1)"/>
<rect x="681.6" y="592.2" width="19.8" height="2.4" rx="1.2" fill="#000" fill-opacity="0.3" filter="url(#b1)"/>
<rect x="612.6" y="597.8" width="21.6" height="4.8" rx="2.4" fill="#000" fill-opacity="0.62" filter="url(#b1)"/>
<rect x="636.4" y="598.8" width="19.0" height="4.8" rx="2.4" fill="#000" fill-opacity="0.75" filter="url(#b1)"/>
<rect x="657.8" y="598.8" width="20.4" height="4.8" rx="2.4" fill="#000" fill-opacity="0.7" filter="url(#b1)"/>
<rect x="680.6" y="598.8" width="21.8" height="4.8" rx="2.4" fill="#000" fill-opacity="0.78" filter="url(#b1)"/>
<rect x="613.6" y="610.0" width="19.6" height="3.0" rx="1.5" fill="#000" fill-opacity="0.08" filter="url(#b2)"/>
<rect x="637.4" y="610.0" width="17.0" height="3.0" rx="1.5" fill="#000" fill-opacity="0.22" filter="url(#b2)"/>
<rect x="658.8" y="610.0" width="18.4" height="3.0" rx="1.5" fill="#000" fill-opacity="0.14" filter="url(#b2)"/>
<rect x="681.6" y="610.0" width="19.8" height="3.0" rx="1.5" fill="#000" fill-opacity="0.14" filter="url(#b2)"/>
<rect x="611.6" y="624.4" width="23.4" height="6.4" rx="3.2" fill="#000" fill-opacity="0.92" filter="url(#b15)"/>
<rect x="635.4" y="625.2" width="20.8" height="6.4" rx="3.2" fill="#000" fill-opacity="0.97" filter="url(#b15)"/>
<rect x="656.8" y="625.6" width="22.2" height="6.4" rx="3.2" fill="#000" fill-opacity="0.95" filter="url(#b15)"/>
<rect x="679.6" y="625.6" width="23.6" height="6.4" rx="3.2" fill="#000" fill-opacity="0.95" filter="url(#b15)"/>
<rect x="638.4" y="650.9" width="14.0" height="2.6" rx="1.3" fill="#000" fill-opacity="0.22" filter="url(#b1)"/>
<rect x="659.8" y="650.9" width="15.4" height="2.6" rx="1.3" fill="#000" fill-opacity="0.16" filter="url(#b1)"/>
<rect x="682.6" y="650.9" width="16.8" height="2.6" rx="1.3" fill="#000" fill-opacity="0.18" filter="url(#b1)"/>
<rect x="613.6" y="664.5" width="18.6" height="3.8" rx="1.9" fill="#000" fill-opacity="0.5" filter="url(#b1)"/>
<rect x="637.4" y="665.5" width="16.0" height="3.8" rx="1.9" fill="#000" fill-opacity="0.48" filter="url(#b1)"/>
<rect x="658.8" y="666.1" width="17.4" height="3.8" rx="1.9" fill="#000" fill-opacity="0.55" filter="url(#b1)"/>
<rect x="681.6" y="666.7" width="18.8" height="3.8" rx="1.9" fill="#000" fill-opacity="0.28" filter="url(#b1)"/>
<rect x="608.1" y="697.9" width="26.6" height="12.6" rx="6.3" fill="#000" fill-opacity="0.97" filter="url(#b15)"/>
<rect x="634.9" y="698.6" width="21.0" height="13.2" rx="6.6" fill="#000" fill-opacity="0.97" filter="url(#b15)"/>
<rect x="656.3" y="701.7" width="22.4" height="11.0" rx="5.5" fill="#000" fill-opacity="0.97" filter="url(#b15)"/>
<rect x="679.1" y="702.5" width="23.8" height="11.0" rx="5.5" fill="#000" fill-opacity="0.97" filter="url(#b15)"/>
<rect x="657.8" y="697.5" width="20.4" height="6.0" rx="3.0" fill="#000" fill-opacity="0.55" filter="url(#b15)"/>
<rect x="680.6" y="697.5" width="21.8" height="6.0" rx="3.0" fill="#000" fill-opacity="0.55" filter="url(#b15)"/>
<rect x="609.6" y="743.8" width="22.6" height="4.4" rx="2.2" fill="#000" fill-opacity="0.55" filter="url(#b1)"/>
<rect x="636.4" y="745.0" width="17.0" height="4.4" rx="2.2" fill="#000" fill-opacity="0.55" filter="url(#b1)"/>
<rect x="657.8" y="745.6" width="18.4" height="4.4" rx="2.2" fill="#000" fill-opacity="0.55" filter="url(#b1)"/>
<rect x="680.6" y="746.0" width="19.8" height="4.4" rx="2.2" fill="#000" fill-opacity="0.55" filter="url(#b1)"/>
<rect x="611.6" y="755.4" width="20.6" height="2.0" rx="1.0" fill="#000" fill-opacity="0.16" filter="url(#b1)"/>
<rect x="635.4" y="755.4" width="18.0" height="2.0" rx="1.0" fill="#000" fill-opacity="0.24" filter="url(#b1)"/>
<rect x="656.8" y="755.4" width="19.4" height="2.0" rx="1.0" fill="#000" fill-opacity="0.16" filter="url(#b1)"/>
<rect x="679.6" y="755.4" width="20.8" height="2.0" rx="1.0" fill="#000" fill-opacity="0.2" filter="url(#b1)"/>
</g>
<text x="619.0" y="505.6" font-size="11.6" textLength="41.0" lengthAdjust="spacingAndGlyphs" transform="rotate(-45 619.0 505.6)">L<tspan class="q" font-size="13.6" dy="0.8">|</tspan><tspan dy="-0.8">F (WT)</tspan></text>
<text x="643.0" y="505.6" font-size="11.6" textLength="17.5" lengthAdjust="spacingAndGlyphs" transform="rotate(-45 643.0 505.6)">L<tspan class="q" font-size="13.6" dy="0.8">|</tspan><tspan dy="-0.8">M</tspan></text>
<text x="666.2" y="505.6" font-size="11.6" textLength="17.5" lengthAdjust="spacingAndGlyphs" transform="rotate(-45 666.2 505.6)">M<tspan class="q" font-size="13.6" dy="0.8">|</tspan><tspan dy="-0.8">F</tspan></text>
<text x="691.5" y="505.6" font-size="11.6" textLength="21.0" lengthAdjust="spacingAndGlyphs" transform="rotate(-45 691.5 505.6)">M<tspan class="q" font-size="13.6" dy="0.8">|</tspan><tspan dy="-0.8">M</tspan></text>
<line x1="713.7" y1="585.4" x2="725.6" y2="585.4" stroke="#262626" stroke-width="1.3"/>
<polygon points="711.2,585.4 715.8,581.7 715.8,589.1" fill="#262626"/>
<text x="730.0" y="588.8" font-size="11.5" textLength="17.2" lengthAdjust="spacingAndGlyphs">p55</text>
<line x1="713.7" y1="630.9" x2="725.6" y2="630.9" stroke="#262626" stroke-width="1.3"/>
<polygon points="711.2,630.9 715.8,627.2 715.8,634.6" fill="#262626"/>
<text x="728.8" y="632.8" font-size="11.5" textLength="17.0" lengthAdjust="spacingAndGlyphs">p55</text>
<line x1="713.7" y1="669.2" x2="725.6" y2="669.2" stroke="#262626" stroke-width="1.3"/>
<polygon points="711.2,669.2 715.8,665.5 715.8,672.9" fill="#262626"/>
<text x="729.6" y="673.3" font-size="11.5" textLength="10.0" lengthAdjust="spacingAndGlyphs">IN</text>
<line x1="713.7" y1="708.6" x2="725.6" y2="708.6" stroke="#262626" stroke-width="1.3"/>
<polygon points="711.2,708.6 715.8,704.9 715.8,712.3" fill="#262626"/>
<text x="728.6" y="712.6" font-size="11.5" textLength="14.4" lengthAdjust="spacingAndGlyphs">CA</text>
<line x1="713.7" y1="749.3" x2="725.6" y2="749.3" stroke="#262626" stroke-width="1.3"/>
<polygon points="711.2,749.3 715.8,745.6 715.8,753.0" fill="#262626"/>
<text x="728.6" y="753.3" font-size="11.5" textLength="15.4" lengthAdjust="spacingAndGlyphs">MA</text>
<text x="414.5" y="778.2" font-size="14.1" textLength="54.0" lengthAdjust="spacingAndGlyphs" fill="#333">Figure 1C</text>
</svg>
</body></html>
